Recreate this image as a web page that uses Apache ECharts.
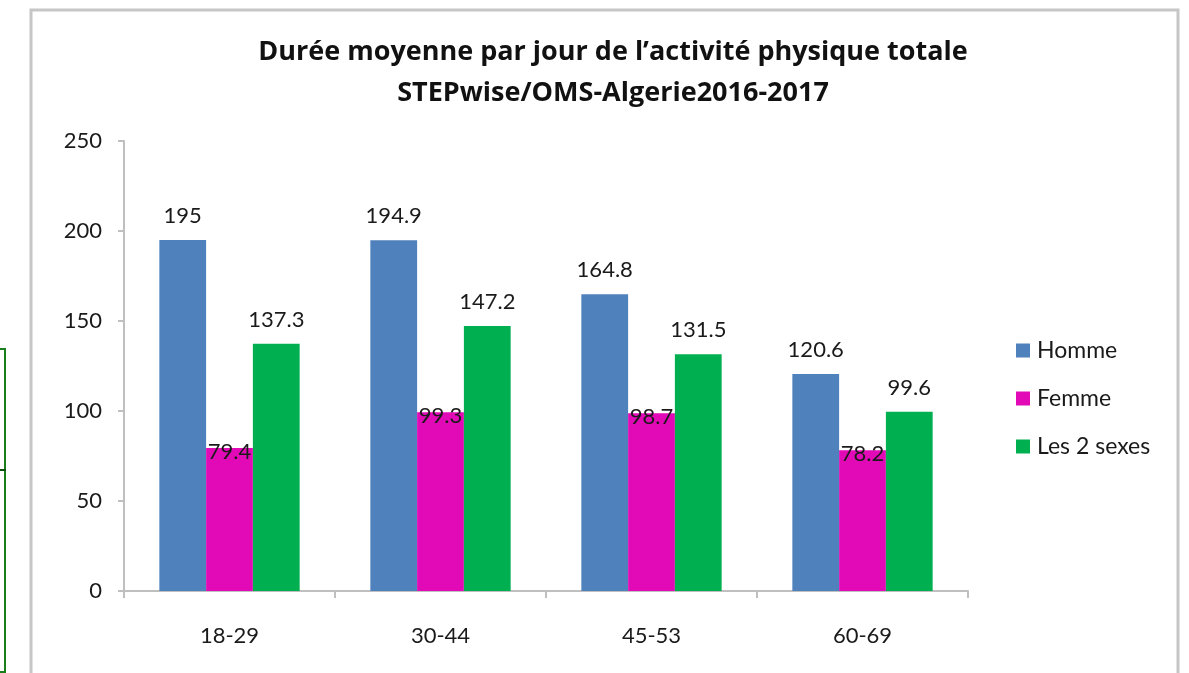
<!DOCTYPE html>
<html>
<head>
<meta charset="utf-8">
<script src="https://cdn.jsdelivr.net/npm/echarts@6/dist/echarts.min.js"></script>
<style>
html,body{margin:0;padding:0;background:#fff;}
#chart{width:1189px;height:673px;}
</style>
</head>
<body>
<div id="chart"></div>
<script>
const categories = ['18-29', '30-44', '45-53', '60-69'];
const homme = [195, 194.9, 164.8, 120.6];
const femme = [79.4, 99.3, 98.7, 78.2];
const lesDeux = [137.3, 147.2, 131.5, 99.6];
const seriesNames = ['Homme', 'Femme', 'Les 2 sexes'];
const yTicks = [0, 50, 100, 150, 200, 250];
const titleLines = ['Durée moyenne par jour de l’activité physique totale', 'STEPwise/OMS-Algerie2016-2017'];

const FONT = 'Lato';
const TXT = '#1a1a1a';
const FS = 22;
const chart = echarts.init(document.getElementById('chart'));

function mkSeries(name, data, color, labelOffset) {
  return {
    name: name,
    type: 'bar',
    data: data,
    barGap: '0%',
    barCategoryGap: '33.5%',
    itemStyle: { color: color },
    label: {
      show: true,
      position: 'top',
      distance: 13,
      offset: labelOffset,
      color: TXT,
      fontFamily: FONT,
      fontSize: FS
    }
  };
}

chart.setOption({
  animation: false,
  backgroundColor: '#ffffff',
  title: {
    text: titleLines.join('\n'),
    left: 608,
    textAlign: 'center',
    top: 27,
    textStyle: { fontFamily: 'Open Sans', fontWeight: 'bold', fontSize: 27, lineHeight: 41, color: '#111' }
  },
  legend: {
    orient: 'vertical',
    left: 1011,
    top: 334,
    itemWidth: 14,
    itemHeight: 14,
    itemGap: 25,
    icon: 'rect',
    textStyle: { fontFamily: FONT, fontSize: 23, lineHeight: 20, color: TXT, padding: [0,0,0,2] },
    data: seriesNames
  },
  grid: { left: 124, right: 221, top: 141, bottom: 82, containLabel: false },
  xAxis: {
    type: 'category',
    data: categories,
    axisLine: { lineStyle: { color: '#bfbfbf', width: 2 } },
    axisTick: { show: true, length: 7, lineStyle: { color: '#bfbfbf', width: 2 } },
    axisLabel: { margin: 34, fontFamily: FONT, fontSize: FS, color: TXT }
  },
  yAxis: {
    type: 'value',
    min: yTicks[0],
    max: yTicks[yTicks.length - 1],
    interval: yTicks[1] - yTicks[0],
    splitLine: { show: false },
    axisLine: { show: true, lineStyle: { color: '#bfbfbf', width: 2 } },
    axisTick: { show: true, length: 6, lineStyle: { color: '#bfbfbf', width: 2 } },
    axisLabel: { margin: 22, fontFamily: FONT, fontSize: FS, color: TXT }
  },
  series: [
    mkSeries(seriesNames[0], homme, '#4F81BD', [0, 0]),
    mkSeries(seriesNames[1], femme, '#E10AB6', [0, 28]),
    mkSeries(seriesNames[2], lesDeux, '#00B050', [0, 0])
  ],
  graphic: [
    { type: 'rect', shape: { x: 31, y: 10, width: 1147, height: 720 }, style: { fill: 'none', stroke: '#c6c6c6', lineWidth: 3 }, silent: true },
    { type: 'polyline', shape: { points: [[0, 349], [5, 349], [5, 672], [0, 672]] }, style: { fill: 'none', stroke: '#1a7f1a', lineWidth: 2 }, silent: true },
    { type: 'line', shape: { x1: 0, y1: 470, x2: 6, y2: 470 }, style: { stroke: '#0d4d0d', lineWidth: 2 }, silent: true }
  ]
});
</script>
</body>
</html>
